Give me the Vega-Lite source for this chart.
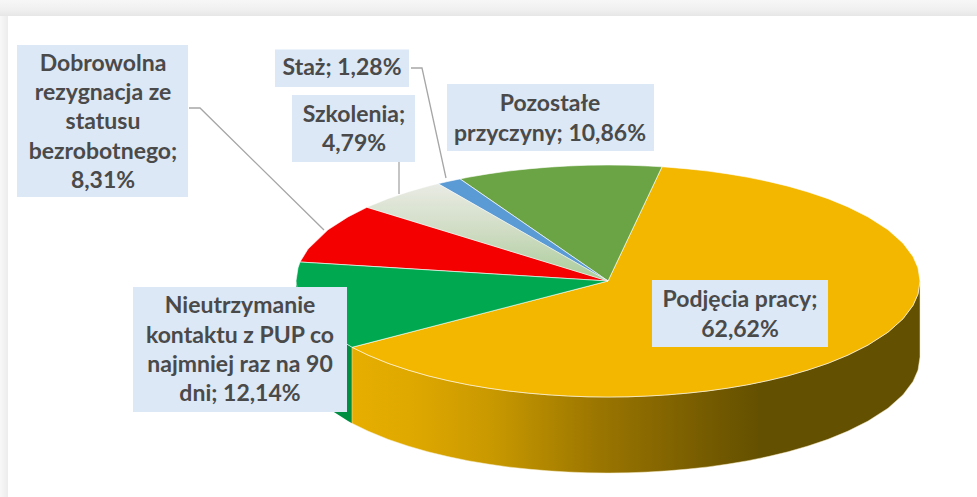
{
"$schema":"https://vega.github.io/schema/vega-lite/v6.json",
"width":977,"height":497,"padding":0,"autosize":{"type":"none"},
"background":"#ffffff",
"config":{"view":{"stroke":null}},
"datasets":{
"frameTop":[{"x":0,"x2":977,"y":0,"y2":16}],
"frameLeft":[{"x":0,"x2":8,"y":16,"y2":497}],
"top":[
{"slice":"Podjęcia pracy","x":352,"y":347.3,"y2":347.3},{"slice":"Podjęcia pracy","x":368,"y":343.2,"y2":355.1},{"slice":"Podjęcia pracy","x":388,"y":338,"y2":363.3},{"slice":"Podjęcia pracy","x":408,"y":332.8,"y2":370},{"slice":"Podjęcia pracy","x":428,"y":327.6,"y2":375.8},{"slice":"Podjęcia pracy","x":448,"y":322.4,"y2":380.6},{"slice":"Podjęcia pracy","x":468,"y":317.3,"y2":384.7},{"slice":"Podjęcia pracy","x":488,"y":312.1,"y2":388.1},{"slice":"Podjęcia pracy","x":508,"y":306.9,"y2":390.9},{"slice":"Podjęcia pracy","x":528,"y":301.7,"y2":393.1},{"slice":"Podjęcia pracy","x":548,"y":296.5,"y2":394.8},{"slice":"Podjęcia pracy","x":568,"y":291.4,"y2":396},{"slice":"Podjęcia pracy","x":588,"y":286.2,"y2":396.8},{"slice":"Podjęcia pracy","x":608,"y":281,"y2":397},{"slice":"Podjęcia pracy","x":628,"y":238.7,"y2":396.8},{"slice":"Podjęcia pracy","x":648,"y":196.4,"y2":396},{"slice":"Podjęcia pracy","x":662,"y":166.8,"y2":395.2},{"slice":"Podjęcia pracy","x":668,"y":167.2,"y2":394.8},{"slice":"Podjęcia pracy","x":688,"y":168.9,"y2":393.1},{"slice":"Podjęcia pracy","x":708,"y":171.1,"y2":390.9},{"slice":"Podjęcia pracy","x":728,"y":173.9,"y2":388.1},{"slice":"Podjęcia pracy","x":748,"y":177.3,"y2":384.7},{"slice":"Podjęcia pracy","x":768,"y":181.4,"y2":380.6},{"slice":"Podjęcia pracy","x":788,"y":186.2,"y2":375.8},{"slice":"Podjęcia pracy","x":808,"y":192,"y2":370},{"slice":"Podjęcia pracy","x":828,"y":198.7,"y2":363.3},{"slice":"Podjęcia pracy","x":848,"y":206.9,"y2":355.1},{"slice":"Podjęcia pracy","x":868,"y":216.9,"y2":345.1},{"slice":"Podjęcia pracy","x":888,"y":229.8,"y2":332.2},{"slice":"Podjęcia pracy","x":903,"y":243.2,"y2":318.8},{"slice":"Podjęcia pracy","x":913,"y":256.6,"y2":305.4},{"slice":"Podjęcia pracy","x":918,"y":267.9,"y2":294.1},{"slice":"Podjęcia pracy","x":920,"y":281,"y2":281},
{"slice":"Pozostałe przyczyny","x":460,"y":178.9,"y2":178.9},{"slice":"Pozostałe przyczyny","x":468,"y":177.3,"y2":184.4},{"slice":"Pozostałe przyczyny","x":488,"y":173.9,"y2":198.2},{"slice":"Pozostałe przyczyny","x":508,"y":171.1,"y2":212},{"slice":"Pozostałe przyczyny","x":528,"y":168.9,"y2":225.8},{"slice":"Pozostałe przyczyny","x":548,"y":167.2,"y2":239.6},{"slice":"Pozostałe przyczyny","x":568,"y":166,"y2":253.4},{"slice":"Pozostałe przyczyny","x":588,"y":165.2,"y2":267.2},{"slice":"Pozostałe przyczyny","x":608,"y":165,"y2":281},{"slice":"Pozostałe przyczyny","x":628,"y":165.2,"y2":238.7},{"slice":"Pozostałe przyczyny","x":648,"y":166,"y2":196.4},{"slice":"Pozostałe przyczyny","x":662,"y":166.8,"y2":166.8},
{"slice":"Staż","x":438,"y":183.7,"y2":183.7},{"slice":"Staż","x":449,"y":181.2,"y2":190},{"slice":"Staż","x":460,"y":178.9,"y2":196.3},{"slice":"Staż","x":608,"y":281,"y2":281},
{"slice":"Dobrowolna rezygnacja","x":300,"y":262,"y2":262},{"slice":"Dobrowolna rezygnacja","x":308,"y":249.1,"y2":262.5},{"slice":"Dobrowolna rezygnacja","x":328,"y":229.8,"y2":263.7},{"slice":"Dobrowolna rezygnacja","x":348,"y":216.9,"y2":265},{"slice":"Dobrowolna rezygnacja","x":367,"y":207.3,"y2":266.1},{"slice":"Dobrowolna rezygnacja","x":608,"y":281,"y2":281},
{"slice":"Nieutrzymanie kontaktu","x":296,"y":281,"y2":281},{"slice":"Nieutrzymanie kontaktu","x":298,"y":267.9,"y2":294.1},{"slice":"Nieutrzymanie kontaktu","x":300,"y":262,"y2":300},{"slice":"Nieutrzymanie kontaktu","x":308,"y":262.5,"y2":312.9},{"slice":"Nieutrzymanie kontaktu","x":328,"y":263.7,"y2":332.2},{"slice":"Nieutrzymanie kontaktu","x":352,"y":265.2,"y2":347.3},{"slice":"Nieutrzymanie kontaktu","x":608,"y":281,"y2":281}
],
"szkolenia":[{"x":367,"y":207.3,"y2":207.3},{"x":388,"y":198.7,"y2":213.7},{"x":408,"y":192,"y2":219.8},{"x":428,"y":186.2,"y2":226},{"x":438,"y":183.7,"y2":229},{"x":608,"y":281,"y2":281}],
"sideGreen":[{"x":296,"y":281,"y2":357},{"x":308,"y":312.9,"y2":388.9},{"x":328,"y":332.2,"y2":408.2},{"x":348,"y":345.1,"y2":421.1},{"x":352,"y":347.3,"y2":423.3}],
"sideOrange":[{"x":352,"y":347.3,"y2":423.3},{"x":368,"y":355.1,"y2":431.1},{"x":388,"y":363.3,"y2":439.3},{"x":408,"y":370,"y2":446},{"x":428,"y":375.8,"y2":451.8},{"x":448,"y":380.6,"y2":456.6},{"x":468,"y":384.7,"y2":460.7},{"x":488,"y":388.1,"y2":464.1},{"x":508,"y":390.9,"y2":466.9},{"x":528,"y":393.1,"y2":469.1},{"x":548,"y":394.8,"y2":470.8},{"x":568,"y":396,"y2":472},{"x":588,"y":396.8,"y2":472.8},{"x":608,"y":397,"y2":473},{"x":628,"y":396.8,"y2":472.8},{"x":648,"y":396,"y2":472},{"x":668,"y":394.8,"y2":470.8},{"x":688,"y":393.1,"y2":469.1},{"x":708,"y":390.9,"y2":466.9},{"x":728,"y":388.1,"y2":464.1},{"x":748,"y":384.7,"y2":460.7},{"x":768,"y":380.6,"y2":456.6},{"x":788,"y":375.8,"y2":451.8},{"x":808,"y":370,"y2":446},{"x":828,"y":363.3,"y2":439.3},{"x":848,"y":355.1,"y2":431.1},{"x":868,"y":345.1,"y2":421.1},{"x":888,"y":332.2,"y2":408.2},{"x":903,"y":318.8,"y2":394.8},{"x":913,"y":305.4,"y2":381.4},{"x":918,"y":294.1,"y2":370.1},{"x":920,"y":281,"y2":357}],
"leaders":[
{"to":"Dobrowolna","x":189,"y":108},{"to":"Dobrowolna","x":200,"y":108},{"to":"Dobrowolna","x":324,"y":230},
{"to":"Szkolenia","x":399,"y":162},{"to":"Szkolenia","x":399,"y":194},
{"to":"Staż","x":411,"y":68},{"to":"Staż","x":422,"y":68},{"to":"Staż","x":446,"y":178}
],
"boxes":[
{"slice":"Dobrowolna rezygnacja ze statusu bezrobotnego","share":8.31,"x":17,"x2":188,"y":45,"y2":197},
{"slice":"Staż","share":1.28,"x":275,"x2":409,"y":49.5,"y2":87},
{"slice":"Szkolenia","share":4.79,"x":292,"x2":415,"y":95,"y2":162},
{"slice":"Pozostałe przyczyny","share":10.86,"x":447,"x2":654,"y":84,"y2":151},
{"slice":"Nieutrzymanie kontaktu z PUP co najmniej raz na 90 dni","share":12.14,"x":133,"x2":347,"y":287,"y2":412},
{"slice":"Podjęcia pracy","share":62.62,"x":652,"x2":828,"y":280,"y2":347}
],
"lines":[
{"t":"Dobrowolna","x":103,"y":64},{"t":"rezygnacja ze","x":103,"y":93},{"t":"statusu","x":103,"y":122},{"t":"bezrobotnego;","x":103,"y":152},{"t":"8,31%","x":103,"y":181},
{"t":"Staż; 1,28%","x":342,"y":68},
{"t":"Szkolenia;","x":354,"y":115},{"t":"4,79%","x":354,"y":144},
{"t":"Pozostałe","x":550,"y":104},{"t":"przyczyny; 10,86%","x":550,"y":134},
{"t":"Nieutrzymanie","x":240,"y":306},{"t":"kontaktu z PUP co","x":240,"y":336},{"t":"najmniej raz na 90","x":240,"y":365},{"t":"dni; 12,14%","x":240,"y":394},
{"t":"Podjęcia pracy;","x":740,"y":300},{"t":"62,62%","x":740,"y":330}
]
},
"encoding":{
"x":{"field":"x","type":"quantitative","scale":{"domain":[0,977],"nice":false,"zero":false},"axis":null},
"y":{"field":"y","type":"quantitative","scale":{"domain":[497,0],"nice":false,"zero":false},"axis":null}
},
"layer":[
{"data":{"name":"frameTop"},"mark":{"type":"rect","color":{"x1":0,"y1":0,"x2":0,"y2":1,"gradient":"linear","stops":[{"offset":0,"color":"#f7f7f7"},{"offset":0.6,"color":"#f0f0f0"},{"offset":1,"color":"#e6e6e6"}]}},"encoding":{"x2":{"field":"x2"},"y2":{"field":"y2"}}},
{"data":{"name":"frameLeft"},"mark":{"type":"rect","color":{"x1":0,"y1":0,"x2":1,"y2":0,"gradient":"linear","stops":[{"offset":0,"color":"#f8f8f8"},{"offset":1,"color":"#ececec"}]}},"encoding":{"x2":{"field":"x2"},"y2":{"field":"y2"}}},
{"data":{"name":"leaders"},"mark":{"type":"line","color":"#a6a6a6","strokeWidth":1.3},"encoding":{"detail":{"field":"to"},"order":{"field":"y","type":"quantitative"}}},
{"data":{"name":"sideGreen"},"mark":{"type":"area","color":"#008f42"},"encoding":{"y2":{"field":"y2"}}},
{"data":{"name":"sideOrange"},"mark":{"type":"area","stroke":"#f5e8c0","strokeWidth":0.5,"color":{"x1":0,"y1":0,"x2":1,"y2":0,"gradient":"linear","stops":[{"offset":0,"color":"#e6ae00"},{"offset":0.1,"color":"#e0a900"},{"offset":0.25,"color":"#c89800"},{"offset":0.43,"color":"#9b7600"},{"offset":0.6,"color":"#7a5e00"},{"offset":0.72,"color":"#635000"},{"offset":1,"color":"#635000"}]}},"encoding":{"y2":{"field":"y2"}}},
{"data":{"name":"top"},"mark":{"type":"area","stroke":"#ffffff","strokeWidth":0.6},"encoding":{"y2":{"field":"y2"},"color":{"field":"slice","type":"nominal","legend":null,"scale":{"domain":["Podjęcia pracy","Pozostałe przyczyny","Staż","Dobrowolna rezygnacja","Nieutrzymanie kontaktu"],"range":["#f3b700","#6ba444","#5b9bd5","#f50000","#00a94f"]}}}},
{"data":{"name":"szkolenia"},"mark":{"type":"area","stroke":"#ffffff","strokeWidth":0.4,"color":{"x1":0,"y1":0,"x2":0,"y2":1,"gradient":"linear","stops":[{"offset":0,"color":"#e9ebe4"},{"offset":0.5,"color":"#cfdcc3"},{"offset":1,"color":"#a9cc9a"}]}},"encoding":{"y2":{"field":"y2"}}},
{"data":{"name":"boxes"},"mark":{"type":"rect","color":"#dce8f5"},"encoding":{"x2":{"field":"x2"},"y2":{"field":"y2"}}},
{"data":{"name":"lines"},"mark":{"type":"text","font":"Lato","fontWeight":"bold","fontSize":23,"align":"center","baseline":"middle","color":"#4a4a4a"},"encoding":{"text":{"field":"t"}}}
]
}
